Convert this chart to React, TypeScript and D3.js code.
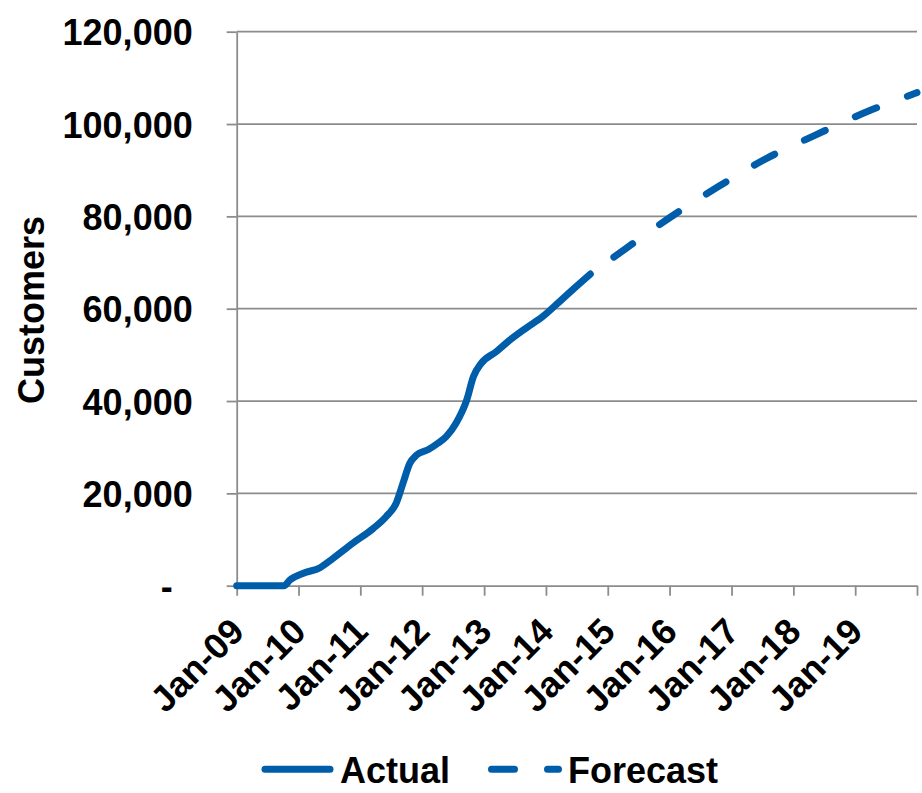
import React, { useEffect, useRef } from "react";
import * as d3 from "d3";

// Customer counts (actual to late 2014, forecast afterwards)
const actualDates = [
  "2009-01-01", "2009-10-08", "2009-11-10", "2010-01-30", "2010-05-08",
  "2010-07-23", "2010-11-17", "2011-03-18", "2011-06-03", "2011-08-01",
  "2011-09-10", "2011-10-20", "2011-11-29", "2012-02-07", "2012-04-05",
  "2012-05-22", "2012-07-19", "2012-09-20", "2012-10-30", "2012-12-16",
  "2013-03-14", "2013-06-02", "2013-09-06", "2013-12-13", "2014-03-21",
  "2014-06-10", "2014-09-20",
];
const actualValues = [
  0, 0, 1200, 2700, 3900,
  5900, 9200, 12400, 15000, 17900,
  22200, 26500, 28300, 29500, 30900,
  32300, 35200, 40200, 45300, 48200,
  50700, 53200, 55800, 58300, 61500,
  64200, 67500,
];

const forecastDates = [
  "2014-09-20", "2015-04-05", "2016-01-01", "2016-10-08", "2017-07-19",
  "2018-05-11", "2019-03-07", "2019-11-25", "2020-01-01",
];
const forecastValues = [67500, 72700, 79700, 86300, 92400, 97600, 102600, 106300, 106800];

const yTicks = [0, 20000, 40000, 60000, 80000, 100000, 120000];
const xTickYears = [2009, 2010, 2011, 2012, 2013, 2014, 2015, 2016, 2017, 2018, 2019, 2020];
const legendLabels = ["Actual", "Forecast"];

const BLUE = "#005DAA";
const GRID = "#8c8c8c";
const FONT = "'Liberation Sans', Arial, Helvetica, sans-serif";

const App: React.FC = () => {
  const svgRef = useRef<SVGSVGElement>(null);

  useEffect(() => {
    const svg = d3.select(svgRef.current);
    svg.selectAll("*").remove();

    const width = 922;
    const height = 793;
    const left = 236.7;
    const right = 917;
    const top = 31.7;
    const bottom = 585.7;

    const parse = d3.timeParse("%Y-%m-%d");
    const actual = actualDates.map((d, i) => ({ date: parse(d) as Date, value: actualValues[i] }));
    const forecast = forecastDates.map((d, i) => ({ date: parse(d) as Date, value: forecastValues[i] }));
    const yearDates = xTickYears.map((y) => new Date(y, 0, 1));

    const x = d3
      .scaleTime()
      .domain([yearDates[0], yearDates[yearDates.length - 1]])
      .range([left, right]);
    const y = d3.scaleLinear().domain([0, 120000]).range([bottom, top]);

    svg.attr("width", width).attr("height", height).style("font-family", FONT);

    // horizontal gridlines
    svg
      .append("g")
      .selectAll("line")
      .data(yTicks.filter((t) => t > 0))
      .enter()
      .append("line")
      .attr("x1", left)
      .attr("x2", right)
      .attr("y1", (d) => y(d))
      .attr("y2", (d) => y(d))
      .attr("stroke", GRID)
      .attr("stroke-width", 1.8);

    // y axis
    const yAxis = svg
      .append("g")
      .attr("transform", `translate(${left},0)`)
      .call(
        d3
          .axisLeft(y)
          .tickValues(yTicks)
          .tickSize(10)
          .tickSizeOuter(0)
          .tickFormat((d) => (+d === 0 ? "-" : d3.format(",")(+d)))
      );
    yAxis.select(".domain").attr("stroke", GRID).attr("stroke-width", 1.8);
    yAxis.selectAll(".tick line").attr("stroke", GRID).attr("stroke-width", 1.8);
    yAxis
      .selectAll<SVGTextElement, number>(".tick text")
      .attr("x", (d) => (d === 0 ? -64 : -44))
      .attr("dy", "0.36em")
      .attr("fill", "#000")
      .style("font-family", FONT)
      .style("font-size", "36px")
      .style("font-weight", "bold");

    // x axis
    const xAxis = svg
      .append("g")
      .attr("transform", `translate(0,${bottom})`)
      .call(
        d3
          .axisBottom(x)
          .tickValues(yearDates)
          .tickSize(10)
          .tickSizeOuter(0)
          .tickFormat((d) => ((d as Date).getFullYear() === 2020 ? "" : d3.timeFormat("%b-%y")(d as Date)))
      );
    xAxis.select(".domain").attr("stroke", GRID).attr("stroke-width", 1.8);
    xAxis.selectAll(".tick line").attr("stroke", GRID).attr("stroke-width", 1.8);
    xAxis
      .selectAll(".tick text")
      .attr("x", 9)
      .attr("y", 48)
      .attr("dy", null)
      .attr("text-anchor", "end")
      .attr("transform", "rotate(-45, 9, 48)")
      .attr("fill", "#000")
      .style("font-family", FONT)
      .style("font-size", "36px")
      .style("font-weight", "bold");

    // y axis title
    svg
      .append("text")
      .attr("transform", "translate(44,310) rotate(-90)")
      .attr("text-anchor", "middle")
      .style("font-size", "36px")
      .style("font-weight", "bold")
      .text("Customers");

    const line = d3
      .line<{ date: Date; value: number }>()
      .x((d) => x(d.date))
      .y((d) => y(d.value))
      .curve(d3.curveMonotoneX);

    svg
      .append("path")
      .datum(forecast)
      .attr("d", line)
      .attr("fill", "none")
      .attr("stroke", BLUE)
      .attr("stroke-width", 7)
      .attr("stroke-linecap", "round")
      .attr("stroke-dasharray", "23 33")
      .attr("stroke-dashoffset", 27);

    svg
      .append("path")
      .datum(actual)
      .attr("d", line)
      .attr("fill", "none")
      .attr("stroke", BLUE)
      .attr("stroke-width", 7)
      .attr("stroke-linejoin", "round")
      .attr("stroke-linecap", "round");

    // legend
    const legend = svg.append("g");
    legend
      .append("line")
      .attr("x1", 265)
      .attr("x2", 330)
      .attr("y1", 769.3)
      .attr("y2", 769.3)
      .attr("stroke", BLUE)
      .attr("stroke-width", 7)
      .attr("stroke-linecap", "round");
    legend
      .append("text")
      .attr("x", 340)
      .attr("y", 782.7)
      .style("font-size", "36px")
      .style("font-weight", "bold")
      .text(legendLabels[0]);
    legend
      .append("line")
      .attr("x1", 491.5)
      .attr("x2", 558.5)
      .attr("y1", 769.3)
      .attr("y2", 769.3)
      .attr("stroke", BLUE)
      .attr("stroke-width", 7)
      .attr("stroke-linecap", "round")
      .attr("stroke-dasharray", "23 33");
    legend
      .append("text")
      .attr("x", 568)
      .attr("y", 782.7)
      .style("font-size", "36px")
      .style("font-weight", "bold")
      .text(legendLabels[1]);
  }, []);

  return (
    <div style={{ position: "absolute", left: 0, top: 0 }}>
      <svg ref={svgRef} width={922} height={793} style={{ display: "block" }}></svg>
    </div>
  );
};

export default App;
